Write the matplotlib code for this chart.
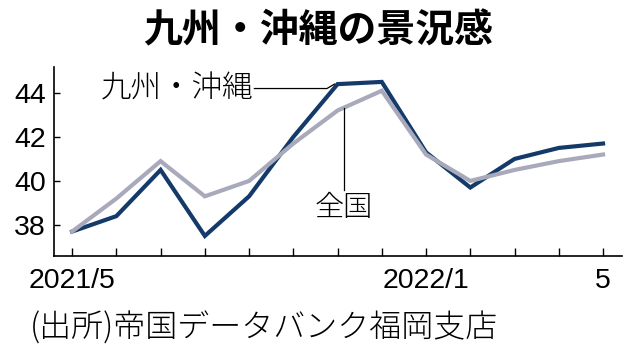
import matplotlib
matplotlib.use('Agg')
import matplotlib.pyplot as plt

# 帝国データバンク 景気DI (2021/5 - 2022/5)
months = ['2021/5', '6', '7', '8', '9', '10', '11', '12',
          '2022/1', '2', '3', '4', '5']
kyushu = [37.7, 38.4, 40.5, 37.5, 39.3, 42.0, 44.4, 44.5,
          41.3, 39.7, 41.0, 41.5, 41.7]
zenkoku = [37.7, 39.2, 40.9, 39.3, 40.0, 41.7, 43.2, 44.1,
           41.2, 40.0, 40.5, 40.9, 41.2]
tick_labels = {0: '2021/5', 8: '2022/1', 12: '5'}
yticks = [38, 40, 42, 44]

jp = ['Noto Sans CJK JP', 'DejaVu Sans']
num_font = ['Liberation Sans', 'DejaVu Sans']

dark = '#143a69'
gray = '#a8a9bb'

fig = plt.figure(figsize=(6.38, 3.6), dpi=100)
ax = fig.add_axes([0.0846, 0.289, 0.975 - 0.0846, 0.814 - 0.289])

x = list(range(len(months)))
# 全国 is drawn over 九州・沖縄 in the original
ax.plot(x, kyushu, color=dark, lw=3.0, solid_joinstyle='miter', zorder=2)
ax.plot(x, zenkoku, color=gray, lw=3.0, solid_joinstyle='miter', zorder=3)

ax.set_xlim(-0.41, 12.43)
ax.set_ylim(36.59, 45.18)

ax.set_xticks(x)
ax.set_xticklabels([tick_labels.get(i, '') for i in x])
ax.set_yticks(yticks)
ax.set_yticklabels([str(v) for v in yticks])
ax.tick_params(axis='both', direction='in', color='black', width=1.0,
               labelsize=20.5)
ax.tick_params(axis='x', length=6, pad=9)
ax.tick_params(axis='y', length=4.5, pad=6)
for lab in ax.get_xticklabels() + ax.get_yticklabels():
    lab.set_fontfamily(num_font)

for side in ['top', 'right']:
    ax.spines[side].set_visible(False)
for side in ['left', 'bottom']:
    ax.spines[side].set_linewidth(1.2)

# labels with leader lines
ax.text(4.1, 44.2, '九州・沖縄', family=jp, fontsize=22, fontweight='light',
        ha='right', va='center')
ax.plot([4.12, 5.76, 5.93], [44.2, 44.2, 44.4], color='black', lw=0.9, zorder=4)
ax.text(6.13, 38.8, '全国', family=jp, fontsize=21, fontweight='light',
        ha='center', va='center')
ax.plot([6.15, 6.15], [43.3, 39.6], color='black', lw=0.9, zorder=4)

fig.text(0.498, 0.915, '九州・沖縄の景況感', family=jp, fontsize=28,
         fontweight='bold', ha='center', va='center')
fig.text(0.047, 0.088, '(出所)帝国データバンク福岡支店', family=jp, fontsize=23,
         fontweight='light', ha='left', va='center')

fig.savefig('out.png', dpi=100)
